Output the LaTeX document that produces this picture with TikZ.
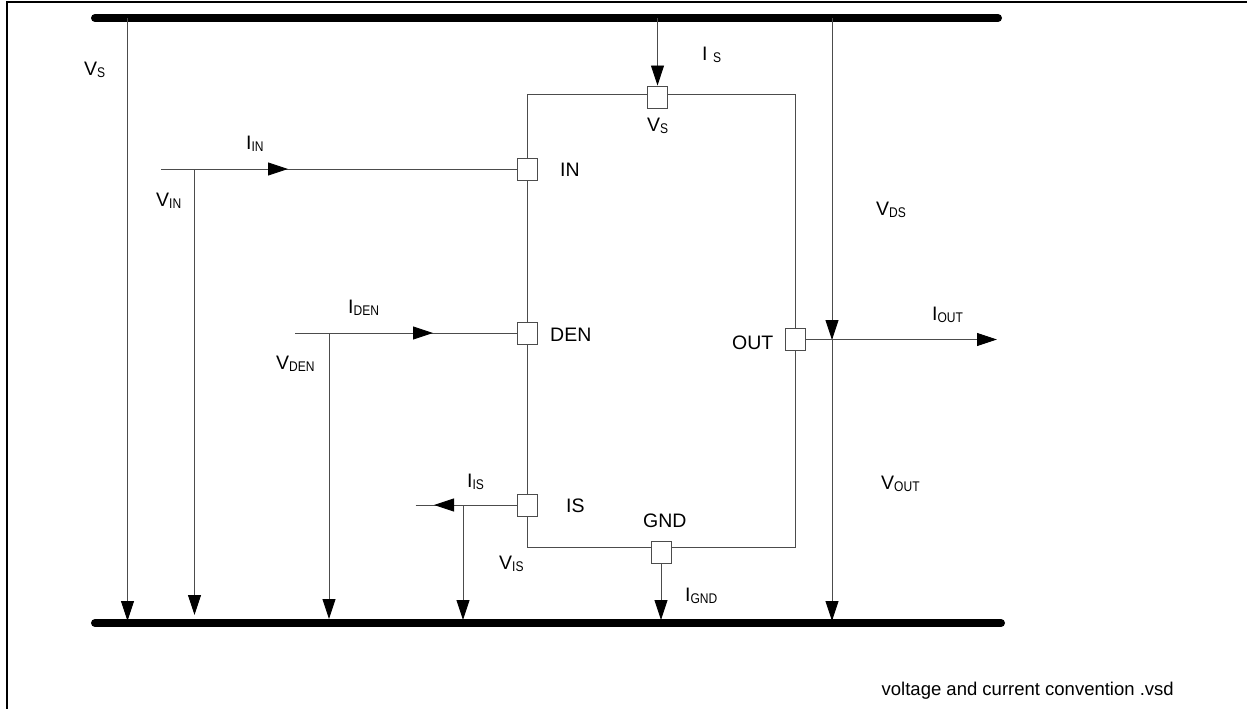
\documentclass[tikz,border=0pt]{standalone}
\usepackage{fontspec}
\setmainfont{Liberation Sans}
\newfontfamily\subfont[FakeStretch=0.86]{Liberation Sans}
\usetikzlibrary{arrows.meta}
\newcommand{\sig}[2]{#1\raisebox{-2.5pt}{\subfont\fontsize{14}{14}\selectfont #2}}
\tikzset{
  wire/.style={line width=0.9pt,black!70},
  arrowwire/.style={wire,-{Triangle[length=20pt,width=13pt,color=black]}},
  rail/.style={line width=8pt,line cap=round},
  pinbox/.style={draw=black!70,line width=0.9pt,fill=white,minimum width=20pt,minimum height=22pt,inner sep=0pt},
  lab/.style={anchor=base west,inner sep=0pt,font=\fontsize{19.5}{21}\selectfont}
}
\begin{document}
\begin{tikzpicture}[x=1pt,y=-1pt]
  \useasboundingbox (0,0) rectangle (1247,709);
  % frame
  \coordinate (frameA) at (6.5,709);
  \coordinate (frameB) at (6.5,2.5);
  \coordinate (frameC) at (1247,2.5);
  \draw[line width=2pt] (frameA)--(frameB)--(frameC);

  % rails
  \coordinate (topL) at (95,18);
  \coordinate (topR) at (998,18);
  \coordinate (botL) at (95,623);
  \coordinate (botR) at (1001,623);
  \draw[rail] (topL)--(topR);
  \draw[rail] (botL)--(botR);

  % device outline
  \coordinate (bodyNW) at (527,94);
  \coordinate (bodyNE) at (795,94);
  \coordinate (bodySE) at (795,547);
  \coordinate (bodySW) at (527,547);
  \draw[wire] (bodyNW)--(bodyNE)--(bodySE)--(bodySW)--cycle;

  \foreach \name/\x/\y in {pinVS/657.5/97,pinIN/527/169,pinDEN/527/333,pinIS/527/505,pinGND/661/552,pinOUT/795/339.5}
    {\node[pinbox] (\name) at (\x,\y) {};}

  % free ends of the connectors
  \foreach \name/\x/\y in {inStart/161/169,inTip/288/169,inDrop/194.5/169,inFoot/194.5/615,
      denStart/295/333,denTip/433/333,denDrop/329/333,denFoot/329/619,
      isEnd/415.5/505,isTip/434/505,isDrop/463/505,isFoot/463/620,
      vsTop/127.5/18,vsFoot/127.5/621,supplyTop/657.5/18,gndFoot/661/620,
      dsTop/832/18,dsTip/832/340,outFoot/832/621,outCross/832/339.5,outTip/997/339.5}
    {\coordinate (\name) at (\x,\y);}

  \draw[arrowwire] (vsTop)--(vsFoot);
  \draw[arrowwire] (supplyTop)--(pinVS.north);
  \draw[arrowwire] (dsTop)--(dsTip);
  \draw[arrowwire] (outCross)--(outFoot);
  \draw[arrowwire] (pinGND)--(gndFoot);

  \draw[wire] (inStart)--(pinIN);
  \draw[arrowwire] (inStart)--(inTip);
  \draw[arrowwire] (inDrop)--(inFoot);

  \draw[wire] (denStart)--(pinDEN);
  \draw[arrowwire] (denStart)--(denTip);
  \draw[arrowwire] (denDrop)--(denFoot);

  \draw[wire] (isEnd)--(pinIS);
  \draw[arrowwire] (pinIS)--(isTip);
  \draw[arrowwire] (isDrop)--(isFoot);

  \draw[arrowwire] (pinOUT)--(outTip);

  % labels
  \foreach \name/\x/\y/\txt in {labVs/84/75/{\sig{V}{S}},labVin/156/206/{\sig{V}{IN}},labIin/246/149/{\sig{I}{IN}},
      labVsPin/647/131/{\sig{V}{S}},labIs/702/60/{\sig{I\space}{S}},labIN/560/176/{IN},
      labVds/876/215/{\sig{V}{DS}},labIout/932/320/{\sig{I}{OUT}},labOUT/732/349/{OUT},
      labDEN/550/341/{DEN},labIden/348/313/{\sig{I}{DEN}},labVden/276/369/{\sig{V}{DEN}},
      labIis/467/487/{\sig{I}{IS}},labIS/566/512/{IS},labGND/643/527/{GND},
      labVis/499/569/{\sig{V}{IS}},labIgnd/685/601/{\sig{I}{GND}},labVout/881/489/{\sig{V}{OUT}}}
    {\node[lab] (\name) at (\x,\y) {\txt};}

  \node[lab,font=\fontsize{18.5}{20}\selectfont] (fileName) at (881.5,695) {voltage and current convention .vsd};
\end{tikzpicture}
\end{document}
